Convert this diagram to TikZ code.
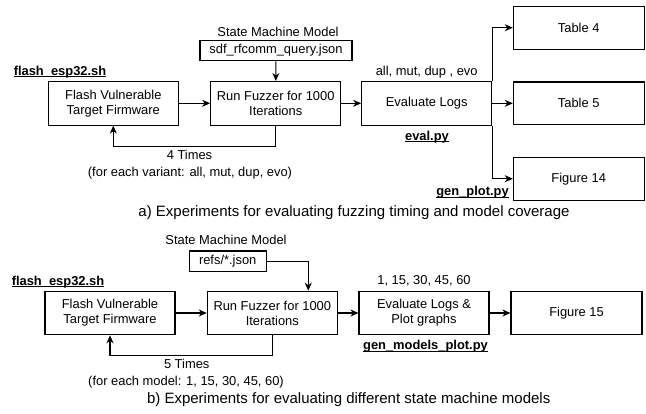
\documentclass[tikz,border=0pt]{standalone}
\usepackage{fontspec}
\setmainfont{Liberation Sans}
\usetikzlibrary{arrows.meta,calc}
\newcommand{\ulx}[1]{\setbox0\hbox{#1}\rlap{\rule[-1.7pt]{\wd0}{1pt}}\box0}
\begin{document}
\begin{tikzpicture}[x=1pt,y=-1pt,
  nf/.style={font=\fontsize{12.9}{15}\selectfont},
  box/.style={nf,draw,line width=1.1pt,minimum width=130pt,minimum height=43.5pt,inner sep=0pt,align=center},
  smallbox/.style={nf,draw,line width=1.1pt,minimum height=20.6pt,inner sep=0pt},
  lbl/.style={nf,inner sep=0pt},
  blbl/.style={font=\fontsize{12.9}{15}\selectfont\bfseries,inner sep=0pt},
  captext/.style={font=\fontsize{15}{18}\selectfont,inner sep=0pt},
  arr/.style={line width=1.1pt,-{Stealth[length=8pt,width=7pt,inset=2.5pt]}}]
\useasboundingbox (0,0) rectangle (646,413);
% ---------- part a ----------
\node[box] (fl1) at (113.3,103.3) {Flash Vulnerable\\Target Firmware};
\node[box] (rf1) at (275.7,103.3) {Run Fuzzer for 1000\\Iterations};
\node[box] (ev1) at (426.7,103.3) {Evaluate Logs};
\node[box,minimum width=130.7pt,minimum height=42.7pt] (t4) at (578.7,27.7) {Table 4};
\node[box,minimum width=130.7pt,minimum height=42.7pt] (t5) at (578.7,103.3) {Table 5};
\node[box,minimum width=130.7pt,minimum height=42.7pt] (f14) at (578.7,178.7) {Figure 14};
\node[smallbox,minimum width=152pt] (sdf) at (276,50.4) {sdf\_rfcomm\_query.json};
\node[lbl] (sm1) at (278,31.7) {State Machine Model};
\node[blbl] (fe1) at (60,72) {\ulx{flash\_esp32.sh}};
\node[lbl] (amde) at (426.7,71.7) {all, mut, dup , evo};
\node[blbl] (evpy) at (427,136.7) {\ulx{eval.py}};
\node[blbl] (gpp) at (472.5,192.5) {\ulx{gen\_plot.py}};
\node[lbl] (t4x) at (189.5,155) {4 Times};
\node[lbl] (fev) at (190,173) {(for each variant: all, mut, dup, evo)};
\node[captext] (capa) at (354,213) {a) Experiments for evaluating fuzzing timing and model coverage};
\draw[arr] (fl1) -- (rf1);
\draw[arr] (rf1) -- (ev1);
\draw[arr] (sdf) -- (rf1);
\draw[arr] (rf1.south) -- ++(0,20.5) -| (fl1.south);
\draw[arr] (ev1.north east) |- (t4.west);
\draw[arr] (ev1.east) -- (t5.west);
\draw[arr] (ev1.south east) |- (f14.west);
% ---------- part b ----------
\node[box] (fl2) at (110,313) {Flash Vulnerable\\Target Firmware};
\node[box] (rf2) at (272.3,313) {Run Fuzzer for 1000\\Iterations};
\node[box] (ev2) at (424,313) {Evaluate Logs \&\\Plot graphs};
\node[box,minimum width=131pt] (f15) at (576.5,313) {Figure 15};
\node[smallbox,minimum width=77pt] (refs) at (227.7,261.3) {refs/*.json};
\node[lbl] (sm2) at (226,240) {State Machine Model};
\node[blbl] (fe2) at (58,282) {\ulx{flash\_esp32.sh}};
\node[lbl] (nums) at (424,281) {1, 15, 30, 45, 60};
\node[blbl] (gmp) at (425.5,346.5) {\ulx{gen\_models\_plot.py}};
\node[lbl] (t5x) at (186.7,364.3) {5 Times};
\node[lbl] (fem) at (186,381.7) {(for each model: 1, 15, 30, 45, 60)};
\node[captext] (capb) at (348.7,400) {b) Experiments for evaluating different state machine models};
\coordinate (rk) at (308.3,261.3);
\draw[arr] (refs.east) -- (rk) -- (rk |- rf2.north);
\draw[arr] (fl2) -- (rf2);
\draw[arr] (rf2) -- (ev2);
\draw[arr] (ev2) -- (f15);
\draw[arr] (rf2.south) -- ++(0,20) -| (fl2.south);
\end{tikzpicture}
\end{document}
